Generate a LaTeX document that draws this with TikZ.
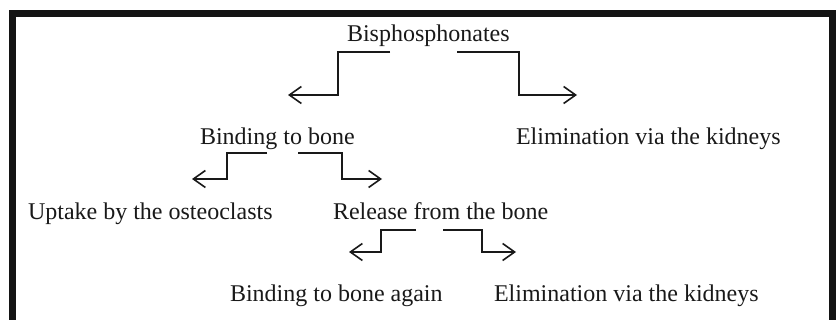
\documentclass[tikz,border=0pt]{standalone}
\usepackage{fontspec}
\setmainfont{Liberation Serif}
\usetikzlibrary{arrows.meta}
\begin{document}
\begin{tikzpicture}[x=1pt,y=-1pt,
  lbl/.style={anchor=base west,inner sep=0pt,outer sep=0pt,font=\fontsize{24}{28}\selectfont,text=black!90},
  arr/.style={line width=1.7pt,draw=black!90,-{Straight Barb[length=12pt,width=17pt,line width=1.6pt]}}]
\useasboundingbox (0,0) rectangle (838,320);
% frame (open at the bottom)
\draw[line width=7pt,draw=black!92,line join=miter] (12.5,330) -- (12.5,14) -- (832.5,14) -- (832.5,330);
% texts
\node[lbl] (bis) at (347,42) {Bisphosphonates};
\node[lbl] (bind) at (200,145) {Binding to bone};
\node[lbl] (elim1) at (516,145) {Elimination via the kidneys};
\node[lbl] (upt) at (28,220) {Uptake by the osteoclasts};
\node[lbl] (rel) at (333,220) {Release from the bone};
\node[lbl] (again) at (230,302) {Binding to bone again};
\node[lbl] (elim2) at (494,302) {Elimination via the kidneys};
% connector end points
\coordinate (b1s) at (390,52);  \coordinate (b1e) at (288,95);
\coordinate (b2s) at (457,52);  \coordinate (b2e) at (577,95);
\coordinate (c1s) at (267,153); \coordinate (c1e) at (192,179);
\coordinate (c2s) at (298,153); \coordinate (c2e) at (382,179);
\coordinate (d1s) at (416,230); \coordinate (d1e) at (349,252);
\coordinate (d2s) at (443,230); \coordinate (d2e) at (516,252);
% connectors
\draw[arr] (b1s) -- ++(-52,0) |- (b1e);
\draw[arr] (b2s) -- ++(62,0) |- (b2e);
\draw[arr] (c1s) -- ++(-40,0) |- (c1e);
\draw[arr] (c2s) -- ++(44,0) |- (c2e);
\draw[arr] (d1s) -- ++(-35,0) |- (d1e);
\draw[arr] (d2s) -- ++(39,0) |- (d2e);
\end{tikzpicture}
\end{document}
